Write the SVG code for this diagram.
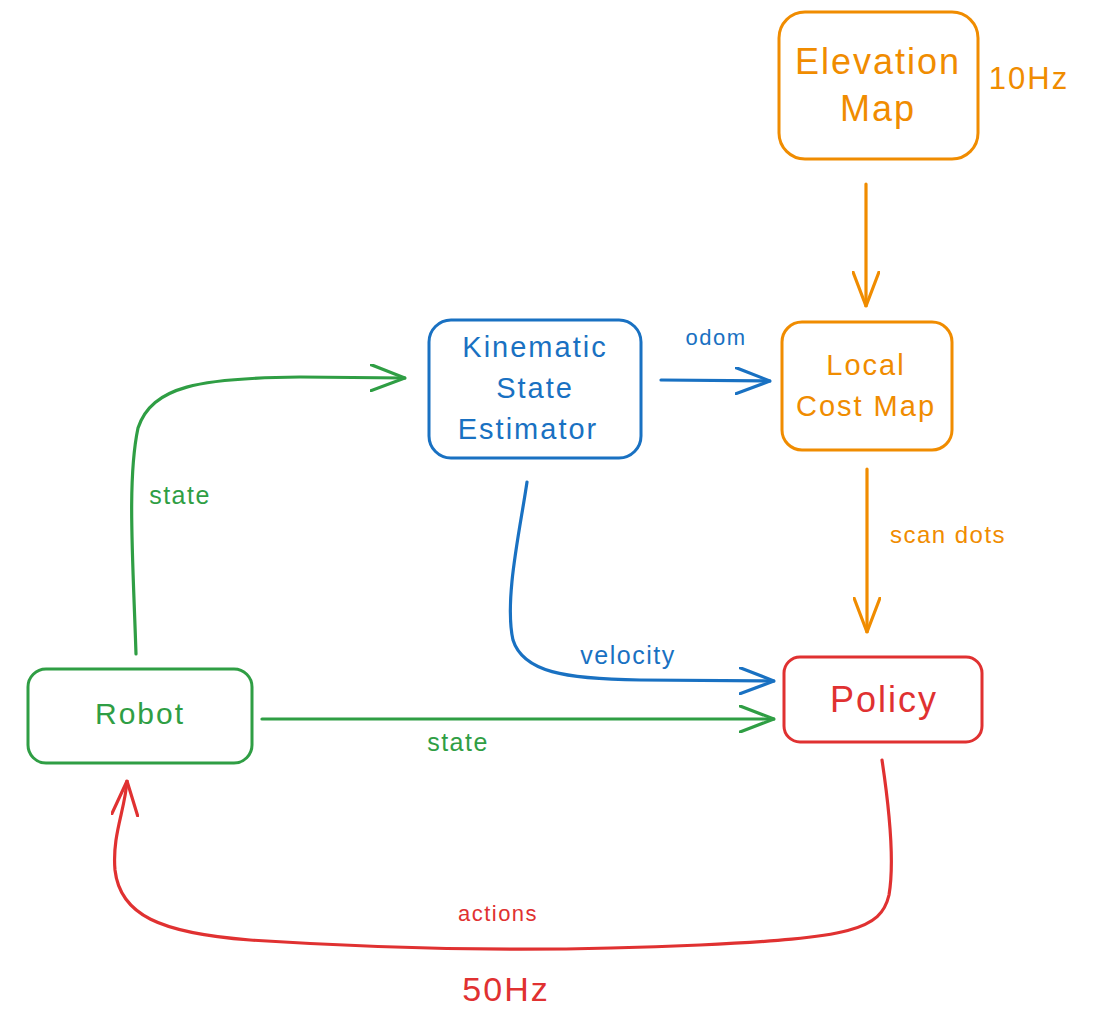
<svg xmlns="http://www.w3.org/2000/svg" width="1101" height="1018" viewBox="0 0 1101 1018">
<style>
text{font-family:"Liberation Sans","Noto Sans",sans-serif;text-anchor:middle;}
.box{fill:none;stroke-width:3;}
.c{fill:none;stroke-width:3.2;stroke-linecap:round;stroke-linejoin:round;}
.g{stroke:#2f9e44;} .gt{fill:#2f9e44;}
.b{stroke:#1971c2;} .bt{fill:#1971c2;}
.o{stroke:#f08c00;} .ot{fill:#f08c00;}
.r{stroke:#e03131;} .rt{fill:#e03131;}
.lbl{letter-spacing:1.5px;}
.nd{letter-spacing:2px;}
</style>
<defs>
<marker id="ag" viewBox="0 0 36 28" refX="35" refY="14" markerWidth="36" markerHeight="28" markerUnits="userSpaceOnUse" orient="auto"><path d="M1,1 L35,14 L1,27" fill="none" stroke="#2f9e44" stroke-width="3.2" stroke-linecap="round"/></marker>
<marker id="ab" viewBox="0 0 36 28" refX="35" refY="14" markerWidth="36" markerHeight="28" markerUnits="userSpaceOnUse" orient="auto"><path d="M1,1 L35,14 L1,27" fill="none" stroke="#1971c2" stroke-width="3.2" stroke-linecap="round"/></marker>
<marker id="ao" viewBox="0 0 36 28" refX="35" refY="14" markerWidth="36" markerHeight="28" markerUnits="userSpaceOnUse" orient="auto"><path d="M1,1 L35,14 L1,27" fill="none" stroke="#f08c00" stroke-width="3.2" stroke-linecap="round"/></marker>
<marker id="ar" viewBox="0 0 36 28" refX="35" refY="14" markerWidth="36" markerHeight="28" markerUnits="userSpaceOnUse" orient="auto"><path d="M1,1 L35,14 L1,27" fill="none" stroke="#e03131" stroke-width="3.2" stroke-linecap="round"/></marker>
</defs>
<rect width="1101" height="1018" fill="#ffffff"/>

<g id="connectors">
  <path class="c o" d="M866,184 L866,306" marker-end="url(#ao)"/>
  <path class="c b" d="M661,380 L770,381" marker-end="url(#ab)"/>
  <path class="c o" d="M867,469 L867,632" marker-end="url(#ao)"/>
  <path class="c g" d="M136,654 C133,560 127,480 138,428 C152,386 200,378 300,377 L405,378" marker-end="url(#ag)"/>
  <path class="c g" d="M262,719 L774,719" marker-end="url(#ag)"/>
  <path class="c b" d="M527,482 C520,530 504,600 513,640 C523,672 565,679 640,680 L774,681" marker-end="url(#ab)"/>
  <path class="c r" d="M882,760 C888,800 895,860 889,895 C881,930 850,938 700,945 C550,952 400,950 250,940 C160,933 120,915 115,870 C112,835 125,810 127,781" marker-end="url(#ar)"/>
  <text x="716" y="345" font-size="22" class="bt lbl">odom</text>
  <text x="948" y="543" font-size="24" class="ot lbl">scan dots</text>
  <text x="180" y="504" font-size="25" class="gt lbl">state</text>
  <text x="458" y="751" font-size="25" class="gt lbl">state</text>
  <text x="628" y="664" font-size="25" class="bt lbl">velocity</text>
  <text x="498" y="921" font-size="22" class="rt lbl">actions</text>
</g>

<g id="elevation-map">
  <rect class="box o" x="779" y="12" width="199" height="147" rx="26"/>
  <text x="878" y="74" font-size="36" class="ot nd">Elevation</text>
  <text x="878" y="121" font-size="36" class="ot nd">Map</text>
  <text x="1029" y="89" font-size="31" class="ot nd">10Hz</text>
</g>

<g id="local-cost-map">
  <rect class="box o" x="782" y="322" width="170" height="128" rx="20"/>
  <text x="866" y="375" font-size="29" class="ot nd">Local</text>
  <text x="866" y="416" font-size="29" class="ot nd">Cost Map</text>
</g>

<g id="kinematic-state-estimator">
  <rect class="box b" x="429" y="320" width="212" height="138" rx="22"/>
  <text x="535" y="357" font-size="29" class="bt nd">Kinematic</text>
  <text x="535" y="398" font-size="29" class="bt nd">State</text>
  <text x="528" y="439" font-size="29" class="bt nd">Estimator</text>
</g>

<g id="robot">
  <rect class="box g" x="28" y="669" width="224" height="94" rx="18"/>
  <text x="140" y="724" font-size="30" class="gt nd">Robot</text>
</g>

<g id="policy">
  <rect class="box r" x="784" y="657" width="198" height="85" rx="16"/>
  <text x="884" y="712" font-size="36" class="rt nd">Policy</text>
</g>

<g id="rate-label">
  <text x="506" y="1001" font-size="34" class="rt nd">50Hz</text>
</g>
</svg>
